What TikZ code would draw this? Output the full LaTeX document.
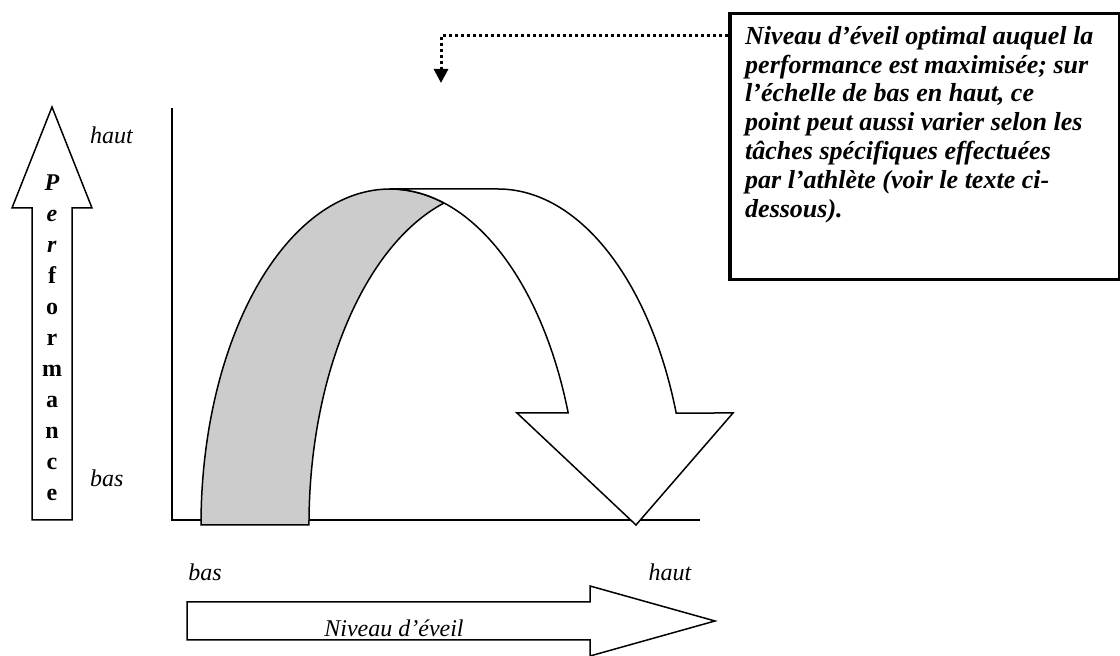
\documentclass[tikz,border=0pt]{standalone}
\usepackage{fontspec}
\setmainfont{Liberation Serif}
\usetikzlibrary{arrows.meta}
\usetikzlibrary{positioning}

\tikzset{
  outline/.style={draw=black, line width=1.5pt, line join=miter},
  lbl/.style={font=\itshape\fontsize{24}{28}\selectfont, inner sep=0pt},
  callout/.style={line width=3pt, dash pattern=on 3pt off 3pt, -{Triangle[width=14pt,length=14pt]}},
}

\begin{document}
\begin{tikzpicture}[x=1pt,y=1pt]
\useasboundingbox (0,0) rectangle (1120,656);

% fleche performance
\draw[outline, fill=white] (32,136) -- (32,448) -- (12,448) -- (52,549) -- (92,448) -- (72,448) -- (72,136) -- cycle;
\node[font=\bfseries\fontsize{24}{31}\selectfont, align=center, inner sep=0pt] (perf) at (52,318) {\textit{P}\\\textit{e}\\\textit{r}\\f\\o\\r\\m\\a\\n\\c\\e};
\node[lbl, anchor=west] (hautY) at (90,521) {haut};
\node[lbl, anchor=west] (basY) at (90,178) {bas};

% axes
\coordinate (ytop) at (172,548);
\coordinate (origin) at (172,136);
\coordinate (xend) at (700,136);
\draw[line width=2pt] (ytop) -- (origin) -- (xend);

% courbe en U inverse
\draw[outline, fill=black!20] (201,131) arc[start angle=180, end angle=73.4, x radius=189, y radius=336]
  arc[start angle=106.6, end angle=180, x radius=189, y radius=336] -- cycle;
\draw[outline, fill=white] (390,467) -- (498,467) arc[start angle=90, end angle=19.47, x radius=189, y radius=336]
  -- (733,243) -- (636,131) -- (517,243) -- (568.2,243)
  arc[start angle=19.47, end angle=90, x radius=189, y radius=336] -- cycle;

% encadre
\node[draw, line width=3.5pt, minimum width=390, minimum height=266, anchor=north west, inner sep=0pt] (note) at (728,644) {};
\node[font=\bfseries\itshape\fontsize{26}{28.8}\selectfont, align=left, anchor=north west, inner sep=0pt] (notetext) at ([xshift=17pt,yshift=-14pt]note.north west) {Niveau d’éveil optimal auquel la\\performance est maximisée; sur\\l’échelle de bas en haut, ce\\point peut aussi varier selon les\\tâches spécifiques effectuées\\par l’athlète (voir le texte ci-\\dessous).};
\coordinate (optimum) at (441,573);
\draw[callout] ([yshift=-24pt]note.north west) -| (optimum);

% fleche niveau d'eveil
\draw[outline, fill=white] (187,16) -- (187,54) -- (590,54) -- (590,70) -- (715,35) -- (590,0) -- (590,16) -- cycle;
\node[lbl] (eveil) at (394,28) {Niveau d’éveil};
\node[lbl] (basX) at (205,84) {bas};
\node[lbl] (hautX) at (670,84) {haut};
\end{tikzpicture}
\end{document}
